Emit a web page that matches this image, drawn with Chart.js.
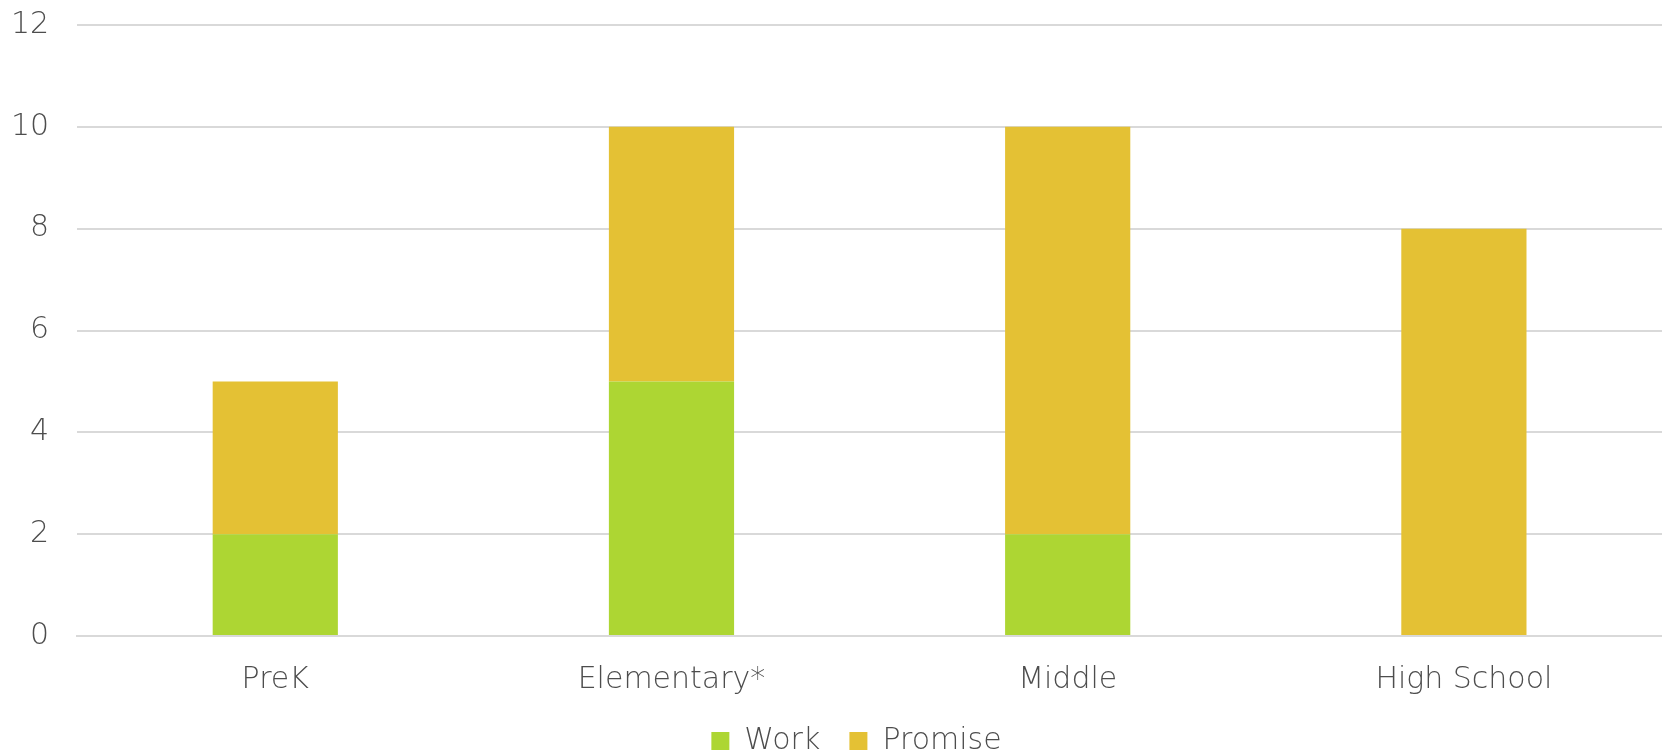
<!DOCTYPE html>
<html>
<head>
<meta charset="utf-8">
<script src="https://cdn.jsdelivr.net/npm/chart.js@4"></script>
<style>
  html, body { margin: 0; padding: 0; background: #fff; overflow: hidden; height: 755px; }
  #wrap { width: 1662px; height: 787px; margin-top: -21px; }
</style>
</head>
<body>
<div id="wrap"><canvas id="chart"></canvas></div>
<script>
const categories = ["PreK", "Elementary*", "Middle", "High School"];
const work = [2, 5, 2, 0];
const promise = [3, 5, 8, 8];

const textColor = "#4d4d4d";
const font = { family: "'DejaVu Sans', sans-serif", size: 30, weight: 200 };

// legend in the original sits a bit right of the canvas centre
const legendShift = {
  id: "legendShift",
  afterLayout(chart) {
    chart.legend.left += 34;
    chart.legend.right += 34;
  }
};

new Chart(document.getElementById("chart"), {
  type: "bar",
  data: {
    labels: categories,
    datasets: [
      { label: "Work", data: work, backgroundColor: "#ADD633", categoryPercentage: 1, barPercentage: 0.316 },
      { label: "Promise", data: promise, backgroundColor: "#E4C134", categoryPercentage: 1, barPercentage: 0.316 }
    ]
  },
  options: {
    responsive: true,
    maintainAspectRatio: false,
    animation: false,
    layout: { padding: { top: -14, right: 0, left: -17, bottom: 0 } },
    plugins: {
      legend: {
        position: "bottom",
        labels: {
          color: textColor, font, boxWidth: 18, boxHeight: 18, padding: 10,
          generateLabels(chart) {
            const items = Chart.defaults.plugins.legend.labels.generateLabels(chart);
            items.forEach((it, i) => { if (i < items.length - 1) it.text += "  "; });
            return items;
          }
        }
      },
      tooltip: { enabled: false }
    },
    scales: {
      x: {
        stacked: true,
        grid: { display: false },
        border: { color: "#D9D9D9", width: 2 },
        ticks: { color: textColor, font, padding: 18 }
      },
      y: {
        stacked: true,
        min: 0, max: 12,
        ticks: { stepSize: 2, color: textColor, font, padding: 28 },
        grid: { color: "#D9D9D9", lineWidth: 2, drawTicks: false },
        border: { display: false }
      }
    }
  },
  plugins: [legendShift]
});
</script>
</body>
</html>
